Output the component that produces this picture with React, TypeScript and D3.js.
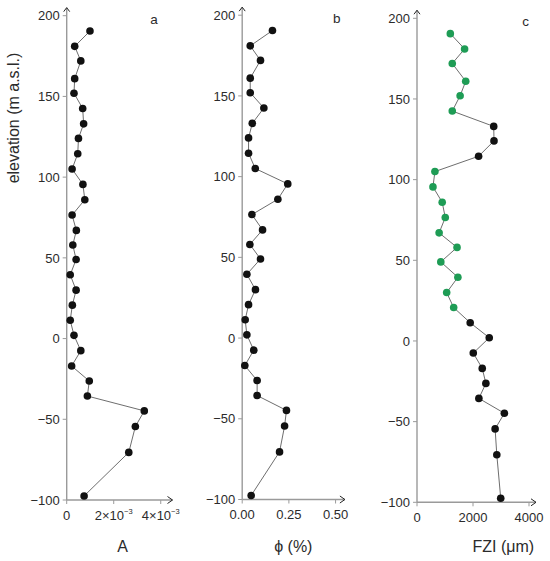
import * as d3 from 'd3';
import React from 'react';

// sample elevations (m a.s.l.), shared by the three profiles
const elevation = [
  190.5, 181, 172, 161, 152, 142.5, 133, 124, 114.5, 105, 95.5, 86, 76.5, 67, 58,
  49, 39.5, 30, 20.7, 11.3, 2, -7.5, -17, -26.3, -35.6, -44.8, -54.5, -70.5, -97.5,
];

// panel a: A
const aValues = [
  0.99e-3, 0.34e-3, 0.6e-3, 0.34e-3, 0.31e-3, 0.68e-3, 0.72e-3, 0.5e-3, 0.47e-3, 0.23e-3,
  0.69e-3, 0.77e-3, 0.23e-3, 0.41e-3, 0.26e-3, 0.4e-3, 0.15e-3, 0.4e-3, 0.24e-3, 0.15e-3,
  0.31e-3, 0.6e-3, 0.21e-3, 0.96e-3, 0.88e-3, 3.3e-3, 2.92e-3, 2.64e-3, 0.74e-3,
];

// panel b: porosity (%)
const phiValues = [
  0.162, 0.043, 0.098, 0.043, 0.043, 0.116, 0.054, 0.034, 0.034, 0.07, 0.244, 0.191,
  0.052, 0.109, 0.041, 0.098, 0.025, 0.071, 0.034, 0.016, 0.025, 0.062, 0.014, 0.08,
  0.08, 0.237, 0.227, 0.2, 0.048,
];

// panel c: FZI (µm)
const fziValues = [
  1190, 1700, 1260, 1740, 1540, 1260, 2740, 2750, 2200, 640, 570, 900, 1010, 790, 1430,
  850, 1460, 1060, 1310, 1900, 2580, 2010, 2330, 2460, 2210, 3120, 2790, 2850, 2990,
];
// which FZI samples are drawn green
const fziGreen = [
  true, true, true, true, true, true, false, false, false, true, true, true, true, true,
  true, true, true, true, true, false, false, false, false, false, false, false, false,
  false, false,
];

const yTicks = [-100, -50, 0, 50, 100, 150, 200];
const aTicks = [0, 2e-3, 4e-3];
const phiTicks = [0, 0.25, 0.5];
const fziTicks = [0, 2000, 4000];

const FONT = '"Liberation Sans", Arial, sans-serif';
const AXIS = '#9a9a9a';
const TEXT = '#2b2b2b';
const GREEN = '#1e9c55';

interface PanelProps {
  values: number[];
  colors: string[];
  ticks: number[];
  tickLabel: (v: number) => React.ReactNode;
  xMax: number;
  xRange: [number, number];
  yRange: [number, number];
  letter: string;
  letterX: number;
  title: React.ReactNode;
  titleX: number;
}

const Panel: React.FC<PanelProps> = ({
  values, colors, ticks, tickLabel, xMax, xRange, yRange, letter, letterX, title, titleX,
}) => {
  const x = d3.scaleLinear().domain([0, xMax]).range(xRange);
  const y = d3.scaleLinear().domain([-100, 200]).range(yRange);
  const x0 = x(0);
  const yBase = y(-100);
  const yTop = y(205);
  const xEnd = x.range()[1];

  const pts = values.map((v, i) => ({ v, e: elevation[i], c: colors[i] }));
  const line = d3.line<{ v: number; e: number }>()
    .x(d => x(d.v))
    .y(d => y(d.e));

  return (
    <g fontFamily={FONT}>
      {/* y axis */}
      <line x1={x0} x2={x0} y1={yBase} y2={yTop} stroke={AXIS} strokeWidth={1.4} />
      <path d={`M${x0 - 3},${yTop + 4}L${x0},${yTop}L${x0 + 3},${yTop + 4}`}
        fill="none" stroke="#222" strokeWidth={1} />
      {yTicks.map(t => (
        <g key={t}>
          <line x1={x0 - 4} x2={x0} y1={y(t)} y2={y(t)} stroke={AXIS} strokeWidth={1} />
          <text x={x0 - 7} y={y(t)} dy="0.36em" textAnchor="end" fontSize={13} fill={TEXT}>
            {t < 0 ? `\u2212${-t}` : t}
          </text>
        </g>
      ))}
      {/* x axis */}
      <line x1={x0} x2={xEnd} y1={yBase} y2={yBase} stroke={AXIS} strokeWidth={1.4} />
      <path d={`M${xEnd - 5},${yBase - 3.5}L${xEnd},${yBase}L${xEnd - 5},${yBase + 3.5}`}
        fill="none" stroke="#222" strokeWidth={1} />
      {ticks.map(t => (
        <g key={t}>
          <line x1={x(t)} x2={x(t)} y1={yBase} y2={yBase + 4} stroke={AXIS} strokeWidth={1} />
          <text x={x(t)} y={yBase + 19.5} textAnchor="middle" fontSize={13} fill={TEXT}>
            {tickLabel(t)}
          </text>
        </g>
      ))}
      {/* profile */}
      <path d={line(pts) ?? ''} fill="none" stroke="#6e6e6e" strokeWidth={1} />
      {pts.map((p, i) => (
        <circle key={i} cx={x(p.v)} cy={y(p.e)} r={3.8} fill={p.c} />
      ))}
      <text x={letterX} y={y(200) + 8} textAnchor="middle" fontSize={13.5} fill={TEXT}>{letter}</text>
      <text x={titleX} y={552} textAnchor="middle" fontSize={16} fill={TEXT}>{title}</text>
    </g>
  );
};

const sci = (v: number) => {
  if (v === 0) return '0';
  return (
    <>
      {`${Math.round(v * 1e3)}\u00d710`}
      <tspan fontSize={7.5} dy={-6}>{'\u22123'}</tspan>
    </>
  );
};

export default function App() {
  const black = elevation.map(() => '#111');
  return (
    <svg width={550} height={561} style={{ position: 'absolute', left: 0, top: 0, background: '#fff' }}>
      <text transform="translate(19,118) rotate(-90)" textAnchor="middle" fontFamily={FONT}
        fontSize={16} fill={TEXT}>
        elevation (m a.s.l.)
      </text>
      <Panel
        values={aValues}
        colors={black}
        ticks={aTicks}
        tickLabel={sci}
        xMax={4.5e-3}
        xRange={[66.7, 172.5]}
        yRange={[500, 15.7]}
        letter="a"
        letterX={154}
        title="A"
        titleX={122.7}
      />
      <Panel
        values={phiValues}
        colors={black}
        ticks={phiTicks}
        tickLabel={v => v.toFixed(2)}
        xMax={0.55}
        xRange={[242.2, 344.9]}
        yRange={[499.5, 15.2]}
        letter="b"
        letterX={336.7}
        title={"\u03d5 (%)"}
        titleX={293.3}
      />
      <Panel
        values={fziValues}
        colors={fziGreen.map(g => (g ? GREEN : '#111'))}
        ticks={fziTicks}
        tickLabel={v => String(v)}
        xMax={4250}
        xRange={[417, 536]}
        yRange={[502.3, 18.3]}
        letter="c"
        letterX={525.7}
        title={<>FZI (<tspan>{'\u03bc'}</tspan>m)</>}
        titleX={503.3}
      />
    </svg>
  );
}
